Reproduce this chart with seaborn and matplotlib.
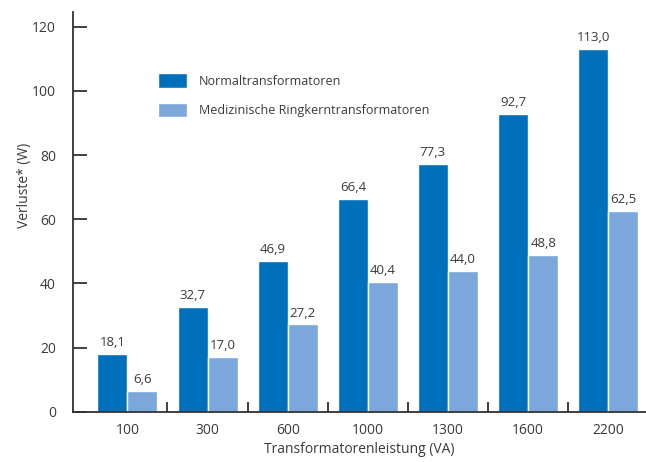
import matplotlib
matplotlib.use("Agg")
import matplotlib.pyplot as plt
from matplotlib.ticker import FixedLocator
import seaborn as sns
import pandas as pd

# Transformer ratings and measured losses
ratings = ["100", "300", "600", "1000", "1300", "1600", "2200"]
normal_losses = [18.1, 32.7, 46.9, 66.4, 77.3, 92.7, 113.0]
medical_losses = [6.6, 17.0, 27.2, 40.4, 44.0, 48.8, 62.5]
series_names = ["Normaltransformatoren", "Medizinische Ringkerntransformatoren"]

df = pd.DataFrame({
    "Leistung": ratings * 2,
    "Verluste": normal_losses + medical_losses,
    "Typ": [series_names[0]] * len(ratings) + [series_names[1]] * len(ratings),
})

sns.set_theme(style="white")
plt.rcParams["font.family"] = ["Open Sans", "DejaVu Sans"]

text_col = "#3a3a3a"
line_col = "#333333"
palette = {series_names[0]: "#0070ba", series_names[1]: "#7ba7da"}

fig = plt.figure(figsize=(6.46, 4.62), dpi=100)
ax = fig.add_axes([0.1125, 0.1089, 0.8875, 0.8652])

sns.barplot(data=df, x="Leistung", y="Verluste", hue="Typ", order=ratings,
            hue_order=series_names, palette=palette, width=0.75,
            edgecolor="white", linewidth=1.0, saturation=1, ax=ax)

# Value labels with decimal comma
for container, vals in zip(ax.containers, [normal_losses, medical_losses]):
    ax.bar_label(container, labels=[f"{v:.1f}".replace(".", ",") for v in vals],
                 padding=3.5, fontsize=9.5, color=text_col)

ax.set_ylim(0, 124.6)
ax.set_xlim(-0.683, 6.47)
ax.set_yticks([0, 20, 40, 60, 80, 100, 120])

sns.despine(ax=ax)
for side in ("left", "bottom"):
    ax.spines[side].set_color(line_col)
    ax.spines[side].set_linewidth(1.3)

ax.tick_params(axis="y", left=True, direction="in", length=10, width=1.3,
               color=line_col, labelsize=10, labelcolor=text_col, pad=12)
ax.tick_params(axis="x", which="major", bottom=False, length=0, labelsize=10,
               labelcolor=text_col, pad=8)
ax.xaxis.set_minor_locator(FixedLocator([i + 0.5 for i in range(len(ratings) - 1)]))
ax.tick_params(axis="x", which="minor", bottom=True, direction="in", length=7,
               width=1.3, color=line_col)

ax.set_xlabel("Transformatorenleistung (VA)", fontsize=10, color=text_col, labelpad=3)
ax.set_ylabel("Verluste* (W)", fontsize=10, color=text_col)
ax.yaxis.set_label_coords(-0.071, 0.567)

leg = ax.legend(loc="upper left", bbox_to_anchor=(0.13, 0.875), frameon=False,
                fontsize=9, handlelength=2.25, handleheight=1.4,
                labelspacing=1.2, handletextpad=1.0, title=None)
for t in leg.get_texts():
    t.set_color(text_col)

fig.savefig("out.png", dpi=100)
